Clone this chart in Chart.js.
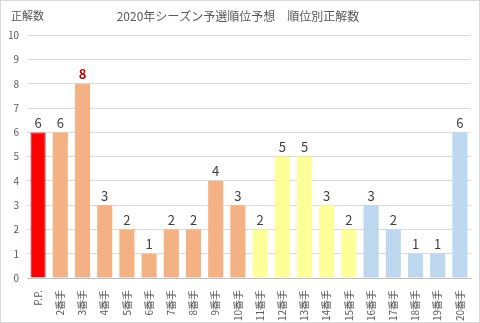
<!DOCTYPE html>
<html lang="ja">
<head>
<meta charset="UTF-8">
<title>2020年シーズン予選順位予想</title>
<script src="https://cdn.jsdelivr.net/npm/chart.js"></script>
<style>
  html, body { margin: 0; padding: 0; background: #fff; }
  #wrap { width: 478px; height: 321px; border: 1px solid #d9d9d9; }
</style>
</head>
<body>
<div id="wrap"><canvas id="chart" width="478" height="321"></canvas></div>
<script>
const labels = ['P.P.', '2番手', '3番手', '4番手', '5番手', '6番手', '7番手', '8番手', '9番手', '10番手',
  '11番手', '12番手', '13番手', '14番手', '15番手', '16番手', '17番手', '18番手', '19番手', '20番手'];
const correct = [6, 6, 8, 3, 2, 1, 2, 2, 4, 3, 2, 5, 5, 3, 2, 3, 2, 1, 1, 6];
const groupColors = ['#ff0000', '#f4b183', '#f4b183', '#f4b183', '#f4b183', '#f4b183', '#f4b183', '#f4b183', '#f4b183', '#f4b183',
  '#ffff99', '#ffff99', '#ffff99', '#ffff99', '#ffff99', '#bdd7ee', '#bdd7ee', '#bdd7ee', '#bdd7ee', '#bdd7ee'];

const fontFamily = "'Noto Sans CJK JP', 'Noto Sans', sans-serif";

// 値ラベルと左上の「正解数」
const labelPlugin = {
  id: 'labels',
  afterDatasetsDraw(chart) {
    const ctx = chart.ctx;
    const meta = chart.getDatasetMeta(0);
    ctx.save();
    ctx.textAlign = 'center';
    ctx.textBaseline = 'bottom';
    meta.data.forEach((bar, i) => {
      const v = correct[i];
      if (v === 8) {
        ctx.fillStyle = '#c00000';
        ctx.font = 'bold 13px ' + fontFamily;
      } else {
        ctx.fillStyle = '#404040';
        ctx.font = '13px ' + fontFamily;
      }
      ctx.fillText(String(v), bar.x, bar.y - 3);
    });
    ctx.fillStyle = '#595959';
    ctx.font = '11px ' + fontFamily;
    ctx.textAlign = 'left';
    ctx.textBaseline = 'middle';
    ctx.fillText('正解数', 10, 15);
    ctx.restore();
  }
};

new Chart(document.getElementById('chart'), {
  type: 'bar',
  data: {
    labels: labels,
    datasets: [{
      data: correct,
      backgroundColor: groupColors,
      borderColor: correct.map((v, i) => i === 0 ? '#a00000' : 'rgba(0,0,0,0)'),
      borderWidth: correct.map((v, i) => i === 0 ? 1 : 0),
      barPercentage: 0.68,
      categoryPercentage: 1.0
    }]
  },
  options: {
    responsive: false,
    animation: false,
    layout: { padding: { top: 4, right: 8, left: 4, bottom: 0 } },
    plugins: {
      legend: { display: false },
      tooltip: { enabled: false },
      title: {
        display: true,
        text: '2020年シーズン予選順位予想　順位別正解数',
        color: '#595959',
        font: { family: fontFamily, size: 12, weight: 'normal' },
        padding: { top: 4, bottom: 12 }
      }
    },
    scales: {
      x: {
        afterFit(scale) { scale.height = 44; },
        grid: { display: false },
        border: { color: '#bfbfbf' },
        ticks: {
          color: '#595959',
          font: { family: fontFamily, size: 10 },
          minRotation: 90,
          maxRotation: 90,
          autoSkip: false,
          padding: 4
        }
      },
      y: {
        min: 0,
        max: 10,
        afterFit(scale) { scale.width = 22; },
        grid: { color: '#d9d9d9', drawTicks: false },
        border: { display: false },
        ticks: {
          stepSize: 1,
          color: '#595959',
          font: { family: fontFamily, size: 10 },
          padding: 8
        }
      }
    }
  },
  plugins: [labelPlugin]
});
</script>
</body>
</html>
